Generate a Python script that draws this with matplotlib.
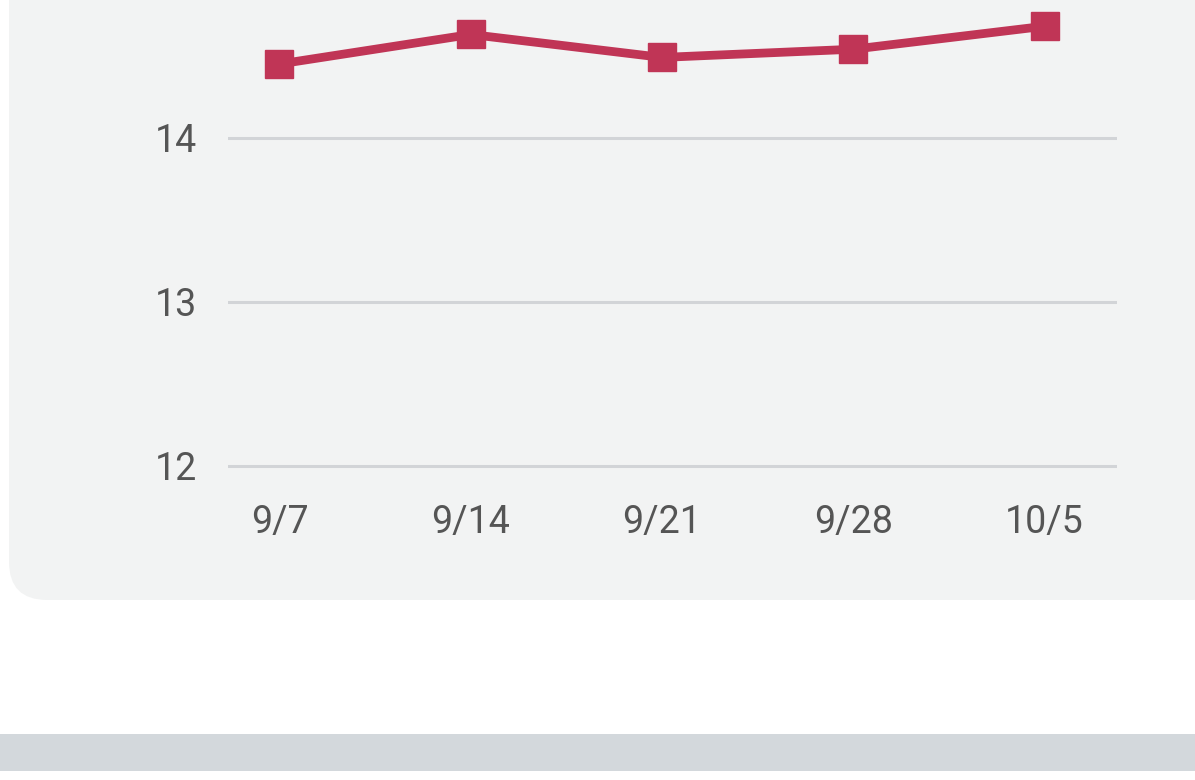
import matplotlib
matplotlib.use("Agg")
import matplotlib.pyplot as plt
from matplotlib.patches import FancyBboxPatch, Rectangle

# data
dates = ["9/7", "9/14", "9/21", "9/28", "10/5"]
values = [14.45, 14.63, 14.49, 14.54, 14.68]
yticks = [12, 13, 14]

W, H = 1195, 780
plt.rcParams['font.family'] = ['Roboto', 'DejaVu Sans']

fig = plt.figure(figsize=(W / 100, H / 100), dpi=100)
fig.patch.set_facecolor("white")

# rounded panel behind the chart and the grey strip at the bottom
panel = FancyBboxPatch((9 / W, (H - 600) / H), (1230 - 9) / W, 700 / H,
                       boxstyle="round,pad=0,rounding_size=0.032",
                       transform=fig.transFigure, facecolor="#f2f3f3",
                       edgecolor="none", mutation_aspect=W / H, zorder=-10)
fig.patches.append(panel)
fig.patches.append(Rectangle((0, (H - 771) / H), 1, 37 / H, transform=fig.transFigure,
                             facecolor="#d3d8dc", edgecolor="none", zorder=-10))

ax = fig.add_axes([228 / W, (H - 476) / H, (1117 - 228) / W, 476 / H])
ax.patch.set_alpha(0)

x = list(range(len(dates)))
ax.plot(x, values, color="#c03556", lw=6.3, marker="s", markersize=19.5,
        solid_joinstyle="miter", zorder=3, clip_on=False)

ax.set_xlim(-0.269, 4.379)
ax.set_ylim(11.939, 14.84)
ax.set_yticks(yticks)
ax.set_yticklabels([str(v) for v in yticks])
ax.set_xticks(x)
ax.set_xticklabels(dates)
ax.grid(axis="y", color="#d2d4d7", lw=2.2)
ax.set_axisbelow(True)
ax.tick_params(length=0, labelsize=27, labelcolor="#555555")
ax.tick_params(axis="y", pad=22)
ax.tick_params(axis="x", pad=20)
for s in ax.spines.values():
    s.set_visible(False)

fig.savefig("out.png", dpi=100, facecolor=fig.get_facecolor())
